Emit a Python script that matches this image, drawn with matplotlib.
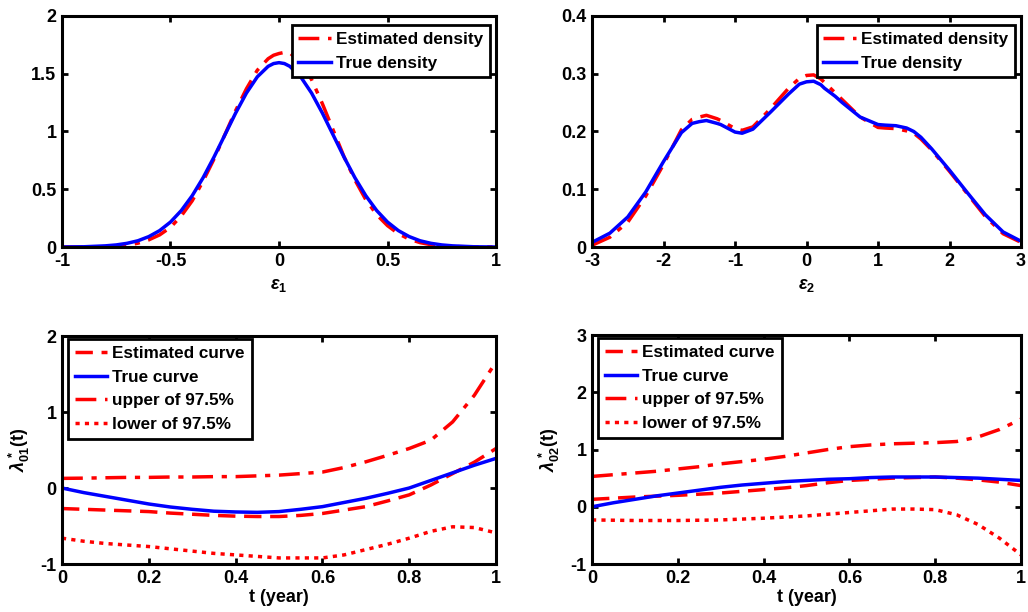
import matplotlib.pyplot as plt

plt.rcParams['font.family'] = ['Liberation Sans', 'DejaVu Sans']
plt.rcParams['font.weight'] = 'bold'
plt.rcParams['axes.labelweight'] = 'bold'
plt.rcParams['axes.unicode_minus'] = False
plt.rcParams['mathtext.fontset'] = 'custom'
plt.rcParams['mathtext.rm'] = 'Liberation Sans:bold'
plt.rcParams['mathtext.it'] = 'Liberation Sans:bold:italic'

# top left: density of eps1
e1 = [-1.0, -0.9, -0.8, -0.75, -0.7, -0.65, -0.6, -0.55, -0.5, -0.45, -0.4, -0.35, -0.3, -0.25,
      -0.2, -0.15, -0.1, -0.05, -0.025, 0.0, 0.025, 0.05, 0.1, 0.15, 0.2, 0.25, 0.3, 0.35, 0.4, 0.45,
      0.5, 0.55, 0.6, 0.65, 0.7, 0.75, 0.8, 0.9, 1.0]
e1_true = [0.0, 0.002, 0.01, 0.018, 0.032, 0.054, 0.09, 0.142, 0.216, 0.316, 0.444, 0.599, 0.777, 0.968,
           1.159, 1.333, 1.473, 1.564, 1.588, 1.596, 1.588, 1.564, 1.473, 1.333, 1.159, 0.968, 0.777,
           0.599, 0.444, 0.316, 0.216, 0.142, 0.09, 0.054, 0.032, 0.018, 0.01, 0.002, 0.0]
e1_est = [0.0, 0.0, 0.003, 0.008, 0.016, 0.033, 0.062, 0.105, 0.17, 0.27, 0.40, 0.57, 0.76, 0.97,
          1.18, 1.37, 1.53, 1.63, 1.66, 1.675, 1.685, 1.68, 1.60, 1.45, 1.24, 1.01, 0.78, 0.58,
          0.41, 0.28, 0.185, 0.115, 0.068, 0.038, 0.02, 0.01, 0.004, 0.001, 0.0]

# top right: density of eps2
e2 = [-3.0, -2.75, -2.5, -2.25, -2.0, -1.75, -1.6, -1.5, -1.4, -1.25, -1.2, -1.0, -0.9, -0.75,
      -0.6, -0.5, -0.25, -0.1, 0.0, 0.1, 0.2, 0.25, 0.4, 0.5, 0.75, 1.0, 1.1, 1.25, 1.4, 1.5,
      1.6, 1.75, 2.0, 2.25, 2.5, 2.75, 3.0]
e2_true = [0.008, 0.024, 0.052, 0.095, 0.148, 0.198, 0.214, 0.217, 0.219, 0.214, 0.212, 0.199,
           0.197, 0.204, 0.222, 0.234, 0.265, 0.282, 0.286, 0.287, 0.281, 0.275, 0.261, 0.25,
           0.225, 0.212, 0.211, 0.21, 0.206, 0.20, 0.19, 0.17, 0.133, 0.094, 0.056, 0.026, 0.01]
e2_est = [0.003, 0.017, 0.043, 0.088, 0.143, 0.203, 0.221, 0.225, 0.228, 0.222, 0.219, 0.205,
          0.202, 0.208, 0.227, 0.24, 0.275, 0.292, 0.297, 0.298, 0.291, 0.285, 0.267, 0.255,
          0.225, 0.207, 0.206, 0.205, 0.201, 0.197, 0.187, 0.168, 0.131, 0.092, 0.053, 0.023, 0.008]

# bottom: baseline curves
t = [0.0, 0.05, 0.1, 0.15, 0.2, 0.25, 0.3, 0.35, 0.4, 0.45, 0.5,
     0.55, 0.6, 0.65, 0.7, 0.75, 0.8, 0.85, 0.9, 0.95, 1.0]
l1_true = [0.0, -0.06, -0.11, -0.16, -0.21, -0.25, -0.28, -0.305, -0.315, -0.32, -0.31,
           -0.28, -0.245, -0.19, -0.135, -0.07, 0.0, 0.1, 0.2, 0.3, 0.39]
l1_est = [-0.27, -0.28, -0.29, -0.30, -0.31, -0.33, -0.345, -0.36, -0.37, -0.375, -0.375,
          -0.36, -0.335, -0.29, -0.245, -0.17, -0.09, 0.04, 0.19, 0.34, 0.52]
l1_up = [0.127, 0.13, 0.135, 0.14, 0.14, 0.145, 0.145, 0.15, 0.15, 0.16, 0.17,
         0.19, 0.21, 0.27, 0.345, 0.43, 0.52, 0.63, 0.87, 1.22, 1.66]
l1_lo = [-0.66, -0.70, -0.73, -0.75, -0.77, -0.80, -0.83, -0.86, -0.88, -0.9, -0.92,
         -0.92, -0.92, -0.88, -0.81, -0.74, -0.66, -0.57, -0.51, -0.52, -0.59]

l2_true = [0.0, 0.07, 0.13, 0.19, 0.24, 0.29, 0.34, 0.38, 0.41, 0.44, 0.46,
           0.48, 0.49, 0.51, 0.52, 0.52, 0.52, 0.51, 0.50, 0.48, 0.46]
l2_est = [0.13, 0.15, 0.17, 0.185, 0.2, 0.22, 0.24, 0.27, 0.30, 0.33, 0.37,
          0.42, 0.46, 0.48, 0.50, 0.51, 0.52, 0.50, 0.47, 0.43, 0.37]
l2_up = [0.53, 0.56, 0.59, 0.62, 0.66, 0.70, 0.75, 0.79, 0.83, 0.88, 0.94,
         1.0, 1.05, 1.08, 1.10, 1.11, 1.12, 1.14, 1.22, 1.35, 1.53]
l2_lo = [-0.23, -0.235, -0.24, -0.24, -0.24, -0.235, -0.23, -0.215, -0.20, -0.18, -0.16,
         -0.13, -0.10, -0.07, -0.04, -0.04, -0.05, -0.14, -0.31, -0.55, -0.84]

RED = '#ff0000'
BLUE = '#0000ff'
DASHDOT = (0, (6, 2.5, 1.5, 2.5))
DASHED = (0, (5, 2.5))
DOTTED = (0, (1.2, 1.5))

fig = plt.figure(figsize=(10.28, 6.12), dpi=100)
axes = [fig.add_axes([0.0603, 0.5964, 0.4222, 0.3775]),
        fig.add_axes([0.5759, 0.5964, 0.4173, 0.3775]),
        fig.add_axes([0.0603, 0.0784, 0.4222, 0.3725]),
        fig.add_axes([0.5759, 0.0784, 0.4173, 0.3742])]


def style(ax):
    for s in ax.spines.values():
        s.set_linewidth(2.2)
    ax.tick_params(direction='in', top=True, right=True, length=4, width=2,
                   labelsize=13, pad=4)


def legend(ax, loc, anchor):
    leg = ax.legend(loc=loc, bbox_to_anchor=anchor, fontsize=12.3, handlelength=1.9,
                    handletextpad=0.3, borderpad=0.4, labelspacing=0.5, fancybox=False,
                    framealpha=1, borderaxespad=0)
    leg.get_frame().set_edgecolor('black')
    leg.get_frame().set_linewidth(2)


ax = axes[0]
ax.plot(e1, e1_est, color=RED, ls=DASHDOT, lw=2.5, label='Estimated density')
ax.plot(e1, e1_true, color=BLUE, lw=2.5, label='True density')
ax.set_xlim(-1, 1)
ax.set_ylim(0, 2)
ax.set_xticks([-1, -0.5, 0, 0.5, 1])
ax.set_xticklabels(['-1', '-0.5', '0', '0.5', '1'])
ax.set_yticks([0, 0.5, 1, 1.5, 2])
ax.set_yticklabels(['0', '0.5', '1', '1.5', '2'])
ax.set_xlabel(r'$\varepsilon_1$', fontsize=13, labelpad=5)
legend(ax, 'upper right', (0.986, 0.96))

ax = axes[1]
ax.plot(e2, e2_est, color=RED, ls=DASHDOT, lw=2.5, label='Estimated density')
ax.plot(e2, e2_true, color=BLUE, lw=2.5, label='True density')
ax.set_xlim(-3, 3)
ax.set_ylim(0, 0.4)
ax.set_yticks([0, 0.1, 0.2, 0.3, 0.4])
ax.set_yticklabels(['0', '0.1', '0.2', '0.3', '0.4'])
ax.set_xlabel(r'$\varepsilon_2$', fontsize=13, labelpad=5)
legend(ax, 'upper right', (0.986, 0.96))

for ax, tr, es, up, lo, ymin, ymax, lab in [
        (axes[2], l1_true, l1_est, l1_up, l1_lo, -1, 2, r'$\lambda^*_{01}$(t)'),
        (axes[3], l2_true, l2_est, l2_up, l2_lo, -1, 3, r'$\lambda^*_{02}$(t)')]:
    ax.plot(t, es, color=RED, ls=DASHED, lw=2.5, label='Estimated curve')
    ax.plot(t, tr, color=BLUE, lw=2.5, label='True curve')
    ax.plot(t, up, color=RED, ls=DASHDOT, lw=2.5, label='upper of 97.5%')
    ax.plot(t, lo, color=RED, ls=DOTTED, lw=2.5, label='lower of 97.5%')
    ax.set_xlim(0, 1)
    ax.set_ylim(ymin, ymax)
    ax.set_xticks([0, 0.2, 0.4, 0.6, 0.8, 1])
    ax.set_xticklabels(['0', '0.2', '0.4', '0.6', '0.8', '1'])
    ax.set_yticks(list(range(ymin, ymax + 1)))
    ax.set_xlabel('t (year)', fontsize=13, labelpad=2)
    ax.set_ylabel(lab, fontsize=13, labelpad=6)
    legend(ax, 'upper left', (0.014, 0.985))

for ax in axes:
    style(ax)

fig.savefig('out.png', dpi=100)
